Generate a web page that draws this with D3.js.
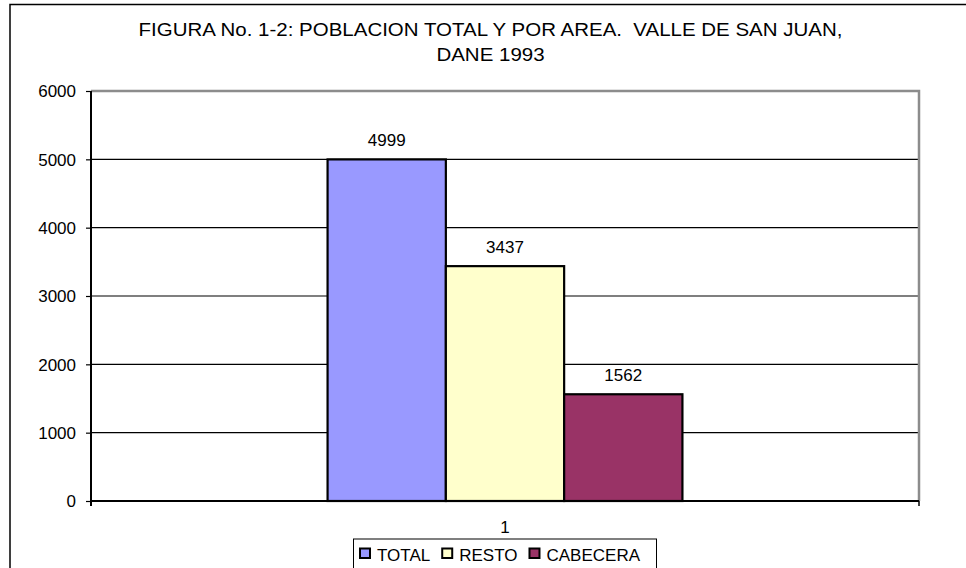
<!DOCTYPE html>
<html><head><meta charset="utf-8">
<script src="https://cdn.jsdelivr.net/npm/d3@7"></script>
<style>
html,body{margin:0;padding:0;background:#fff;}
svg{display:block;font-family:"Liberation Sans",Arial,sans-serif;}
</style></head>
<body>
<svg id="c" width="966" height="568"></svg>
<script>
const titleLines = ["FIGURA No. 1-2: POBLACION TOTAL Y POR AREA.  VALLE DE SAN JUAN,", "DANE 1993"];
const categories = ["1"];
const seriesNames = ["TOTAL", "RESTO", "CABECERA"];
const seriesValues = [4999, 3437, 1562];
const seriesColors = ["#9999FF", "#FFFFCC", "#993366"];
const yTicks = [0, 1000, 2000, 3000, 4000, 5000, 6000];

const svg = d3.select("#c");
const W = 966, H = 568;
const plot = {l: 91, r: 919, t: 91, b: 501};

svg.append("rect").attr("width", W).attr("height", H).attr("fill", "#fff");
// outer chart border (cropped at right/bottom)
svg.append("rect").attr("x", 10).attr("y", 4.5).attr("width", 1000).attr("height", 600)
  .attr("fill", "none").attr("stroke", "#000").attr("stroke-width", 1.5);

// title (slightly wide text, as in the reference)
const title = svg.append("g").attr("transform", "translate(490.5,0) scale(1.09,1)")
  .append("text").attr("text-anchor", "middle").attr("font-size", 18.8).attr("fill", "#000");
titleLines.forEach((t, i) => {
  title.append("tspan").attr("x", 0).attr("y", 36 + i * 25).style("white-space", "pre").text(t);
});

const y = d3.scaleLinear().domain([0, 6000]).range([plot.b, plot.t]);
const x0 = d3.scaleBand().domain(categories).range([plot.l, plot.r]).padding(0);
const x1 = d3.scaleBand().domain(seriesNames).range([0, x0.bandwidth()]).paddingInner(0).paddingOuter(2);

// gridlines
svg.append("g").selectAll("line").data(yTicks.filter(d => d > 0 && d < 6000)).join("line")
  .attr("x1", plot.l).attr("x2", plot.r).attr("y1", d => y(d)).attr("y2", d => y(d))
  .attr("stroke", "#000").attr("stroke-width", 1.2);

// plot border gray top & right
svg.append("path").attr("d", `M${plot.l},${plot.t}H${plot.r}V${plot.b}`)
  .attr("fill", "none").attr("stroke", "#8c8c8c").attr("stroke-width", 2.5);

// bars
const data = seriesNames.map((s, i) => ({s, v: seriesValues[i], c: seriesColors[i]}));
const g = svg.append("g");
categories.forEach(cat => {
  g.selectAll("rect.bar").data(data).join("rect")
    .attr("class", "bar")
    .attr("x", d => x0(cat) + x1(d.s)).attr("width", x1.bandwidth())
    .attr("y", d => y(d.v)).attr("height", d => y(0) - y(d.v))
    .attr("fill", d => d.c).attr("stroke", "#000").attr("stroke-width", 2.2);
  g.selectAll("text.val").data(data).join("text")
    .attr("class", "val")
    .attr("x", d => x0(cat) + x1(d.s) + x1.bandwidth() / 2)
    .attr("y", d => y(d.v) - 13.5)
    .attr("text-anchor", "middle").attr("font-size", 17).attr("fill", "#000").text(d => String(d.v));
});

// y axis
const yAxis = d3.axisLeft(y).tickValues(yTicks).tickSize(5).tickPadding(10).tickFormat(d3.format("d"));
const ya = svg.append("g").attr("transform", `translate(${plot.l},0)`).call(yAxis);
ya.select(".domain").attr("stroke", "#000").attr("stroke-width", 2).attr("d", `M0,${plot.t}V${plot.b + 5}`);
ya.selectAll(".tick line").attr("stroke", "#000").attr("stroke-width", 1.2);
ya.selectAll(".tick text").attr("font-size", 17).attr("font-family", "Liberation Sans, Arial, sans-serif").attr("fill", "#000").attr("dy", "0.35em");

// x axis
const xa = svg.append("g").attr("transform", `translate(0,${plot.b})`);
xa.append("line").attr("x1", plot.l).attr("x2", plot.r).attr("stroke", "#000").attr("stroke-width", 2);
xa.selectAll("line.t").data([plot.l, plot.r]).join("line").attr("class", "t")
  .attr("x1", d => d).attr("x2", d => d).attr("y1", 0).attr("y2", 5).attr("stroke", "#000").attr("stroke-width", 1.5);
xa.selectAll("text").data(categories).join("text")
  .attr("x", d => x0(d) + x0.bandwidth() / 2).attr("y", 32)
  .attr("text-anchor", "middle").attr("font-size", 17).text(d => d);

// legend
const lg = svg.append("g");
lg.append("rect").attr("x", 353.5).attr("y", 539).attr("width", 303).attr("height", 40)
  .attr("fill", "#fff").attr("stroke", "#000").attr("stroke-width", 1);
let lx = 360;
seriesNames.forEach((s, i) => {
  lg.append("rect").attr("x", lx).attr("y", 548.5).attr("width", 10).attr("height", 9.5)
    .attr("fill", seriesColors[i]).attr("stroke", "#000").attr("stroke-width", 2);
  const t = lg.append("text").attr("x", lx + 17).attr("y", 561).attr("font-size", 17).text(s);
  lx = lx + 17 + t.node().getComputedTextLength() + 12;
});
</script>
</body></html>
